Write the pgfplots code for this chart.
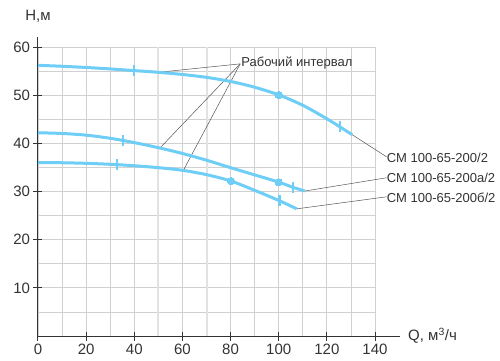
\documentclass[border=0pt]{standalone}
\usepackage{pgfplots}
\pgfplotsset{compat=1.18}
\usepackage{fontspec}
\setmainfont{Liberation Sans}
\definecolor{curve}{RGB}{110,206,245}
\definecolor{txt}{RGB}{51,51,51}
\definecolor{gridc}{RGB}{208,208,208}
\definecolor{gridl}{RGB}{226,226,226}
\definecolor{lead}{RGB}{85,85,85}
\begin{document}
\begin{tikzpicture}
\useasboundingbox (-38pt,-24pt) rectangle (462pt,336pt);
\begin{axis}[
  scale only axis, width=337pt, height=289pt,
  xmin=0, xmax=140, ymin=0, ymax=60,
  axis x line=bottom, axis y line=left,
  x axis line style={-, shorten >=-25pt, line width=1pt, draw=txt},
  y axis line style={-, shorten >=-10pt, line width=1pt, draw=txt},
  xtick={0,20,...,140}, ytick={10,20,...,60},
  minor xtick={10,30,90,110,130}, minor ytick={5,15,...,55},
  extra x ticks={50,70}, extra x tick labels={},
  extra x tick style={major tick length=0pt, grid=major, major grid style={gridl, line width=2pt}},
  grid=both,
  major grid style={gridc, line width=0.8pt},
  minor grid style={gridc, line width=0.8pt},
  tick align=center, major tick length=9pt, minor tick length=0pt,
  major tick style={txt, line width=1pt},
  ticklabel style={font=\fontsize{15}{15}\selectfont, text=txt},
  /pgf/number format/assume math mode=true,
  clip=false,
]
% leader lines
\addplot[lead, line width=0.5pt] coordinates {(50,54.75) (84,56.5)};
\addplot[lead, line width=0.5pt] coordinates {(50.7,39.05) (84,56.5)};
\addplot[lead, line width=0.5pt] coordinates {(60.4,34.4) (84,56.5)};
\addplot[lead, line width=0.5pt] coordinates {(130.5,41.8) (144.8,37.2)};
\addplot[lead, line width=0.5pt] coordinates {(110.9,30.1) (144.8,32.85)};
\addplot[lead, line width=0.5pt] coordinates {(107.5,26.4) (144.8,28.9)};
% curves
\addplot[curve, line width=3pt, smooth, tension=0.5] coordinates {
  (0,56.2) (10,56.0) (20,55.75) (30,55.45) (40,55.1) (50,54.75) (60,54.3) (70,53.7) (80,52.85) (90,51.65) (100,50.05) (110,47.9) (120,45.1) (125.5,43.4) (130.5,41.8)};
\addplot[curve, line width=3pt, smooth, tension=0.5] coordinates {
  (0,42.2) (10,42.05) (20,41.7) (30,41.05) (40,40.15) (50,39.1) (60,37.9) (70,36.5) (80,34.95) (90,33.45) (100,31.95) (106,30.85) (110.9,30.1)};
\addplot[curve, line width=3pt, smooth, tension=0.5] coordinates {
  (0,36) (10,35.97) (20,35.85) (30,35.65) (40,35.35) (50,34.95) (60,34.4) (70,33.5) (80,32.2) (90,30.25) (100,28.15) (107.5,26.4)};
% points
\addplot[curve, only marks, mark=*, mark size=3.6pt, line width=0pt, mark options={fill=curve, draw=curve}] coordinates {(100,50.05) (100,31.95) (80.2,32.2)};
\addplot[curve, only marks, mark=|, mark size=5.5pt, line width=2.4pt, mark options={draw=curve, line width=2.4pt}] coordinates {
  (40,55.1) (125.5,43.4) (35.4,40.5) (106,30.85) (32.7,35.65) (100.3,28.1)};
% texts
\node[anchor=west, inner sep=0pt, font=\fontsize{13}{13}\selectfont, text=txt] at (axis cs:84.4,56.6) {Рабочий интервал};
\node[anchor=west, inner sep=0pt, font=\fontsize{13}{13}\selectfont, text=txt] at (axis cs:144.9,37.0) {СМ 100-65-200/2};
\node[anchor=west, inner sep=0pt, font=\fontsize{13}{13}\selectfont, text=txt] at (axis cs:144.9,32.85) {СМ 100-65-200а/2};
\node[anchor=west, inner sep=0pt, font=\fontsize{13}{13}\selectfont, text=txt] at (axis cs:144.9,28.7) {СМ 100-65-200б/2};
\node[inner sep=0pt, font=\fontsize{15}{15}\selectfont, text=txt] at (axis cs:0,60) [yshift=31pt] {Н,м};
\node[anchor=west, inner sep=0pt, font=\fontsize{15}{15}\selectfont, text=txt] at (axis cs:140,0) [xshift=33pt] {Q, м\textsuperscript{3}/ч};
\end{axis}
\end{tikzpicture}
\end{document}
